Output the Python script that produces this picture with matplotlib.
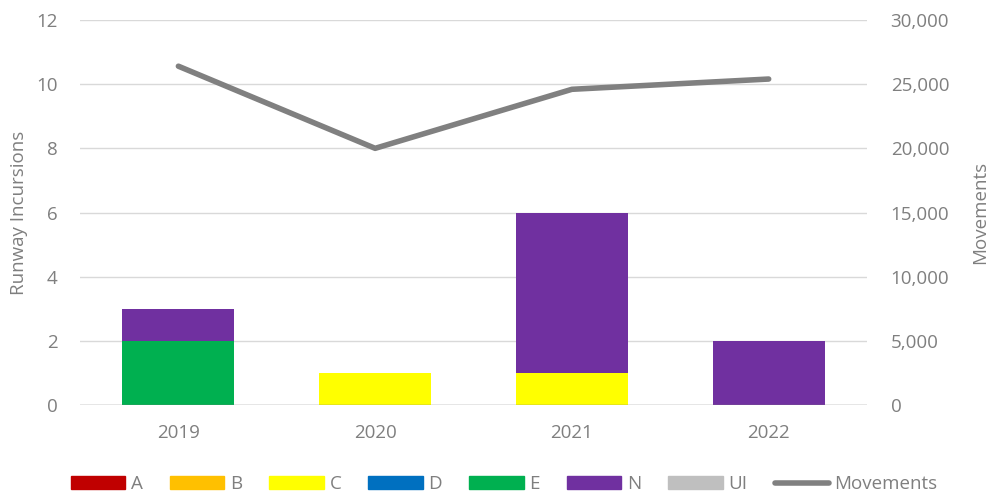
import numpy as np
import matplotlib.pyplot as plt
from matplotlib.lines import Line2D
from matplotlib.patches import Patch

years = ['2019', '2020', '2021', '2022']
cats = ['A', 'B', 'C', 'D', 'E', 'N', 'UI']
counts = {
    'A': [0, 0, 0, 0],
    'B': [0, 0, 0, 0],
    'C': [0, 1, 1, 0],
    'D': [0, 0, 0, 0],
    'E': [2, 0, 0, 0],
    'N': [1, 0, 5, 2],
    'UI': [0, 0, 0, 0],
}
movements = [26400, 20000, 24600, 25400]
colors = ['#C00000', '#FFC000', '#FFFF00', '#0070C0', '#00B050', '#7030A0', '#BFBFBF']

plt.rcParams['font.family'] = ['Open Sans', 'DejaVu Sans']
txt = '#7f7f7f'

fig = plt.figure(figsize=(9.89, 4.95), dpi=100)
ax = fig.add_axes([0.0809, 0.1818, 0.7958, 0.7778])
ax2 = ax.twinx()

ind = np.arange(len(years))
width = 0.57
bottom = np.zeros(len(years))
for c, col in zip(cats, colors):
    vals = np.array(counts[c], dtype=float)
    ax.bar(ind, vals, width, bottom=bottom, color=col, zorder=2)
    bottom += vals

ax2.plot(ind, movements, color='#808080', lw=4, solid_capstyle='round', zorder=3)

ax.set_xlim(-0.5, 3.5)
ax.set_ylim(0, 12)
ax.set_yticks(range(0, 13, 2))
ax2.set_ylim(0, 30000)
ax2.set_yticks(range(0, 30001, 5000))
ax2.set_yticklabels([f'{v:,}' for v in range(0, 30001, 5000)])
ax.set_xticks(ind)
ax.set_xticklabels(years)

for a in (ax, ax2):
    for s in a.spines.values():
        s.set_visible(False)
    a.tick_params(length=0, labelsize=13.5, colors=txt)
ax.tick_params(axis='y', pad=16)
ax.tick_params(axis='x', pad=14)
ax2.tick_params(axis='y', pad=17)

for y in range(2, 13, 2):
    ax.axhline(y, color='#d9d9d9', lw=1, zorder=0)
ax.axhline(0, color='#808080', lw=1, zorder=3)

ax.set_ylabel('Runway Incursions', color=txt, fontsize=13.5, labelpad=6)
ax2.set_ylabel('Movements', color=txt, fontsize=13.5, labelpad=16)

handles = [Patch(color=col, label=c) for c, col in zip(cats, colors)]
handles.append(Line2D([0], [0], color='#808080', lw=4, solid_capstyle='round', label='Movements'))
fig.legend(handles=handles, loc='lower center', bbox_to_anchor=(0.51, -0.03), ncol=8,
           frameon=False, fontsize=13.5, labelcolor=txt, handlelength=2.9, handleheight=0.65,
           handletextpad=0.3, columnspacing=1.45)

fig.savefig('out.png', dpi=100)
